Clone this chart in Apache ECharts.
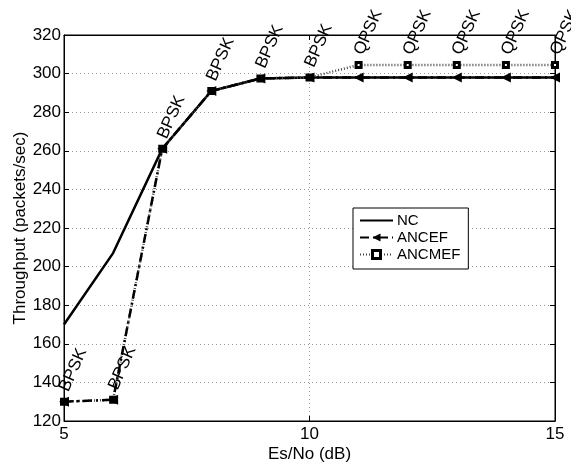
<!DOCTYPE html>
<html>
<head>
<meta charset="utf-8">
<script src="https://cdn.jsdelivr.net/npm/echarts@6/dist/echarts.min.js"></script>
<style>
  html, body { margin: 0; padding: 0; background: #fff; }
  #chart { width: 571px; height: 469px; }
</style>
</head>
<body>
<div id="chart"></div>
<script>
// Throughput versus Es/No for the three schemes
const esNo = [5, 6, 7, 8, 9, 10, 11, 12, 13, 14, 15];
const nc = [170, 207, 261, 291, 297.5, 298, 298, 298, 298, 298, 298];
const ancef = [130, 131, 261, 291, 297.5, 298, 298, 298, 298, 298, 298];
const ancmef = [130, 131, 261, 291, 297.5, 298, 304.5, 304.5, 304.5, 304.5, 304.5];
const modulation = ['BPSK', 'BPSK', 'BPSK', 'BPSK', 'BPSK', 'BPSK', 'QPSK', 'QPSK', 'QPSK', 'QPSK', 'QPSK'];
const yTicks = [120, 140, 160, 180, 200, 220, 240, 260, 280, 300, 320];
const xTicks = [5, 10, 15];

const font = 'Liberation Sans, Arial, Helvetica, sans-serif';
const pairs = (ys) => esNo.map((x, i) => [x, ys[i]]);

const chart = echarts.init(document.getElementById('chart'), null, { renderer: 'canvas' });

const commonAxis = {
  axisLine: { show: true, lineStyle: { color: '#000', width: 1 } },
  axisTick: { show: true, inside: true, length: 5, lineStyle: { color: '#000' } },
};

chart.setOption({
  animation: false,
  backgroundColor: '#fff',
  grid: {
    left: 64, right: 16, top: 35, bottom: 48,
    containLabel: false, outerBoundsMode: 'none',
    show: true, borderColor: '#000', borderWidth: 1,
  },
  xAxis: [
    Object.assign({
      type: 'value', min: xTicks[0], max: xTicks[xTicks.length - 1], interval: 5,
      name: 'Es/No (dB)', nameLocation: 'middle', nameGap: 25, nameMoveOverlap: false,
      nameTextStyle: { color: '#000', fontSize: 17, fontFamily: font },
      axisLabel: { color: '#000', fontSize: 17, fontFamily: font, margin: 5 },
      splitLine: { show: true, lineStyle: { color: '#999', type: [1, 3], width: 1 } },
    }, commonAxis),
    Object.assign({
      type: 'value', position: 'top', min: 5, max: 15, interval: 5,
      axisLabel: { show: false }, splitLine: { show: false },
    }, commonAxis),
  ],
  yAxis: [
    Object.assign({
      type: 'value', min: yTicks[0], max: yTicks[yTicks.length - 1], interval: 20,
      name: 'Throughput (packets/sec)', nameLocation: 'middle', nameGap: 35, nameMoveOverlap: false,
      nameTextStyle: { color: '#000', fontSize: 17, fontFamily: font },
      axisLabel: { color: '#000', fontSize: 17, fontFamily: font, margin: 3 },
      splitLine: { show: true, lineStyle: { color: '#999', type: [1, 3], width: 1 } },
    }, commonAxis),
    Object.assign({
      type: 'value', position: 'right', min: 120, max: 320, interval: 20,
      axisLabel: { show: false }, splitLine: { show: false },
    }, commonAxis),
  ],
  legend: {
    orient: 'vertical', left: 353, top: 208,
    backgroundColor: '#fff', borderColor: '#000', borderWidth: 1,
    padding: [5, 8, 7, 6], itemGap: 2, itemWidth: 33, itemHeight: 10,
    textStyle: { color: '#000', fontSize: 15, fontFamily: font, padding: [0, 0, 0, -1] },
    data: [
      { name: 'NC', itemStyle: { opacity: 0 } },
      { name: 'ANCEF' },
      { name: 'ANCMEF', itemStyle: { color: '#fff', borderColor: '#000', borderWidth: 3 } },
    ],
  },
  series: [
    {
      name: 'NC', type: 'line', data: pairs(nc), symbol: 'none',
      lineStyle: { color: '#000', width: 2.5 }, itemStyle: { color: '#000' }, z: 3,
    },
    {
      name: 'ANCEF', type: 'line', data: pairs(ancef),
      symbol: 'triangle', symbolSize: 10, symbolRotate: 90,
      lineStyle: { color: '#000', width: 2.5, type: [9, 4, 2, 4] },
      itemStyle: { color: '#000' }, z: 5,
    },
    {
      name: 'ANCMEF', type: 'line', data: pairs(ancmef),
      symbol: 'rect', symbolSize: 5,
      lineStyle: { color: '#444', width: 2.5, type: [1, 2] },
      itemStyle: { color: '#fff', borderColor: '#000', borderWidth: 3 }, z: 4,
      label: {
        show: true, position: 'top', distance: 7, rotate: 66,
        align: 'left', verticalAlign: 'middle',
        color: '#000', fontSize: 17, fontFamily: font,
        formatter: (p) => modulation[p.dataIndex],
      },
    },
  ],
});
</script>
</body>
</html>
